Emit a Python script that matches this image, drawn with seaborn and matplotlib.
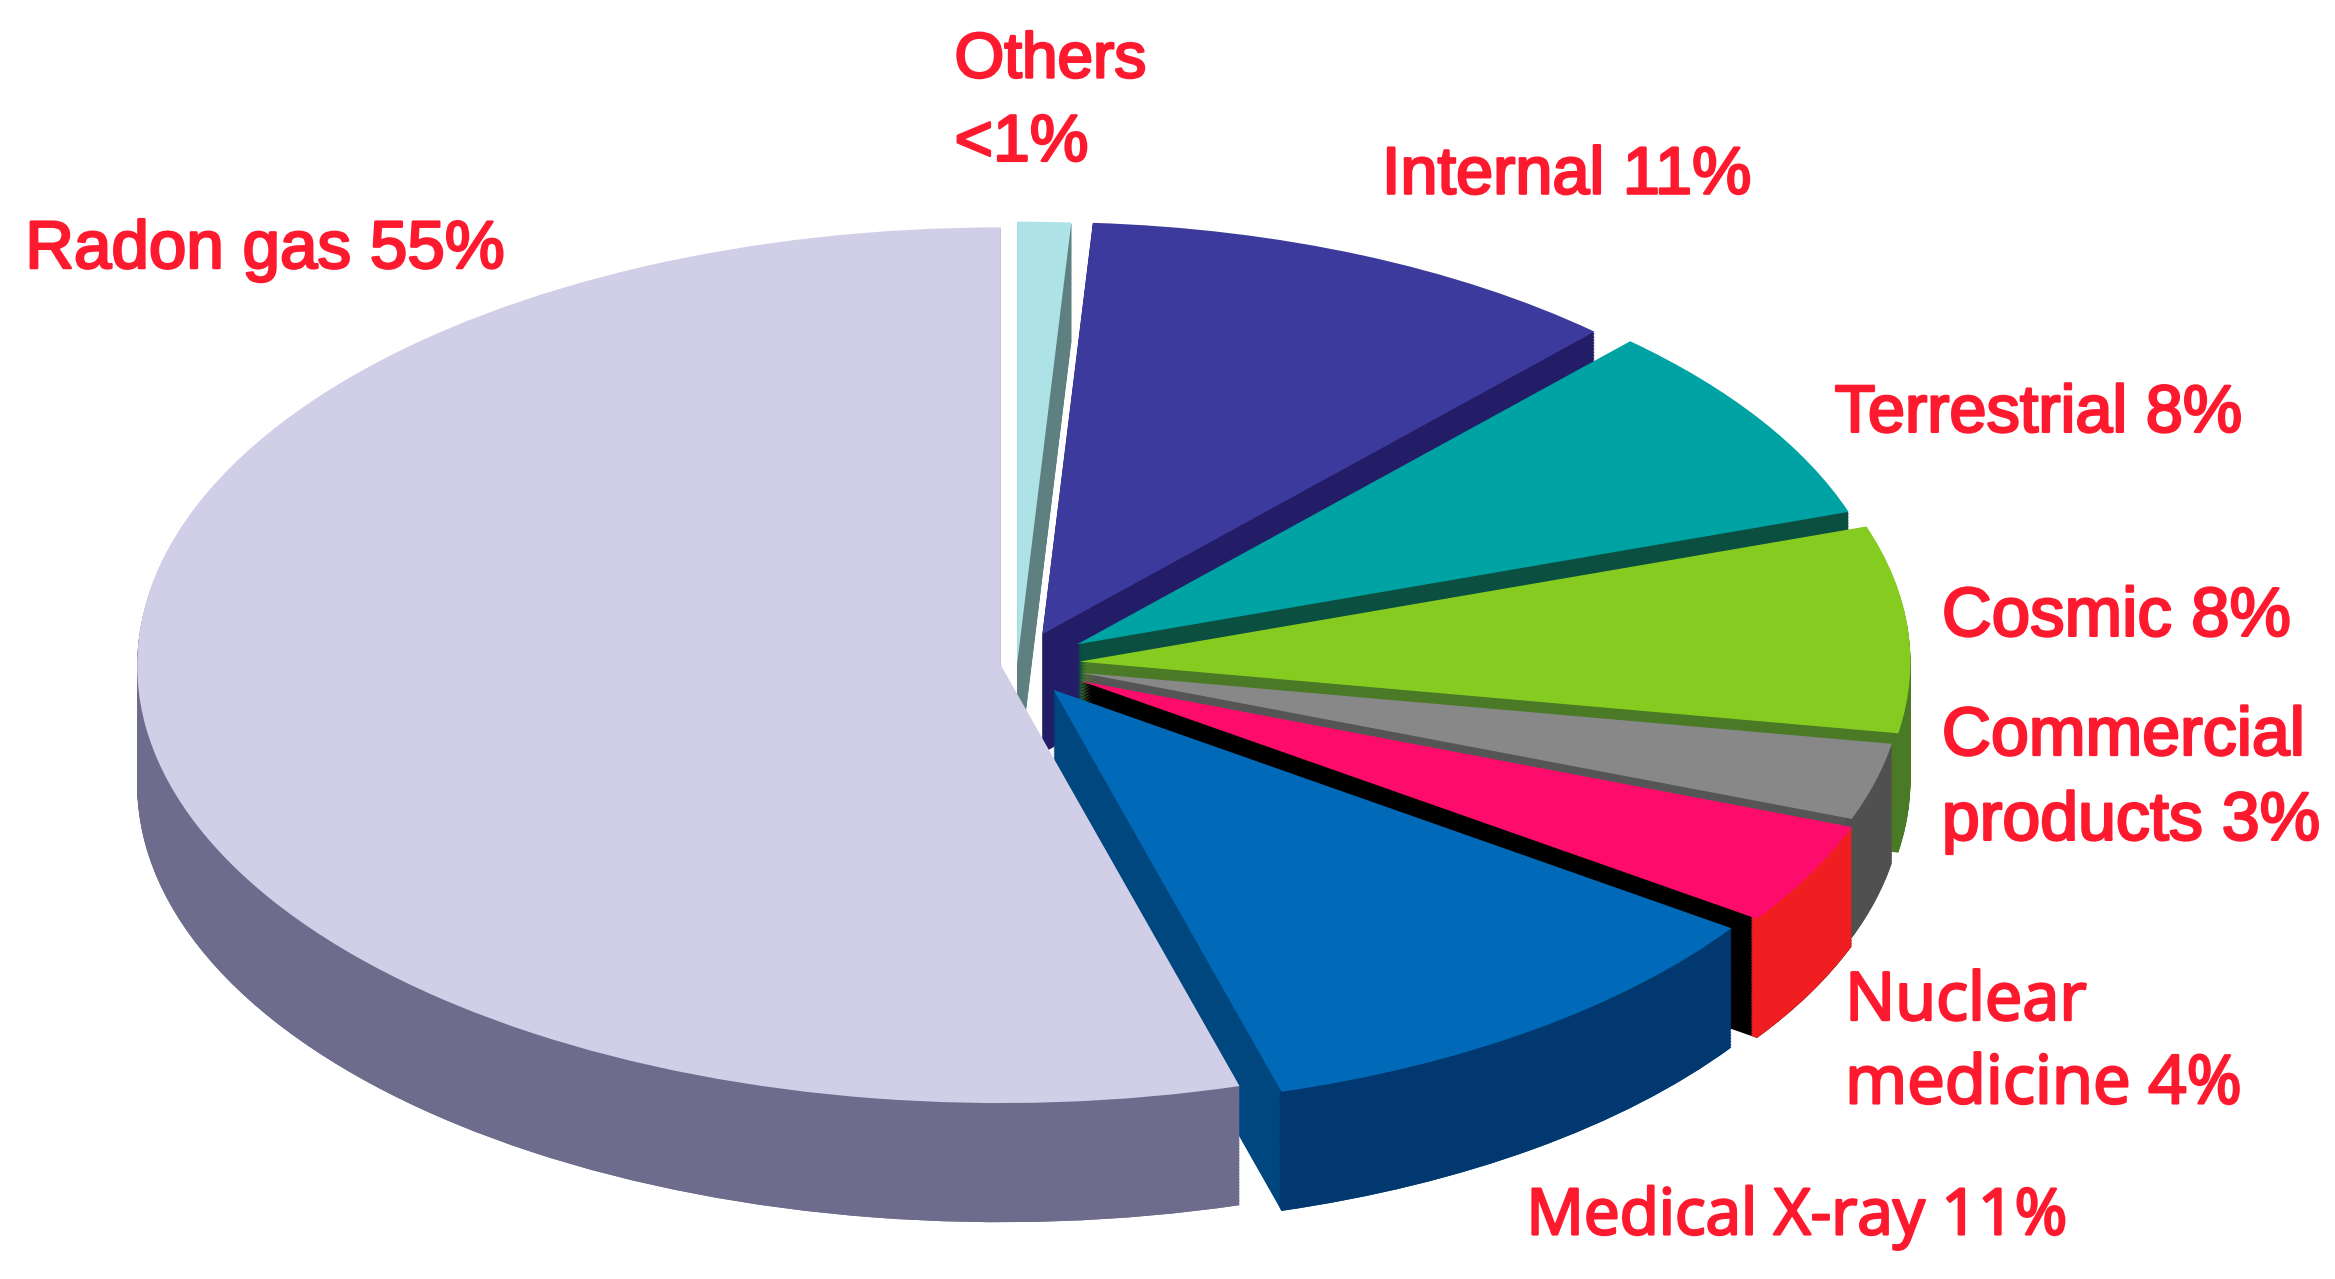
import numpy as np
import seaborn as sns
import matplotlib.pyplot as plt
import matplotlib.patheffects as pe

# slices, clockwise from the top
sources = ["Others", "Internal", "Terrestrial", "Cosmic", "Commercial products",
           "Nuclear medicine", "Medical X-ray", "Radon gas"]
percent = [1, 11, 8, 8, 3, 4, 11, 55]

top_colors = ["#ade3e6", "#3c3a9c", "#00a3a3", "#86cc20", "#888888", "#fe0c6b", "#006ab8", "#d1cee8"]
cut_colors = ["#5f8080", "#231c66", "#0a4f40", "#4a7a25", "#555555", "#000000", "#00467f", "#6e6c8c"]
rim_colors = ["#5f8080", "#231c66", "#0a4f40", "#4a7a25", "#505050", "#f01e20", "#00386f", "#6e6c8c"]

explode = [0, 43, 48, 42, 44, 48, 42, 11]
radii = [586, 546, 547, 558, 553, 553, 554, 580]

# everything is measured on a 1568x859 copy of the picture
W, H = 1568, 859
SQUASH = 0.507
CX, CY = 683, 446
DEPTH = 80

sns.set_theme(style="white")
fig = plt.figure(figsize=(23.35, 12.79), dpi=100, facecolor="white")
ax = fig.add_axes([0, 0, 1, 1])


def draw_pie(colors, drop=0, width=None):
    props = {"linewidth": 0}
    if width:
        props["width"] = width
    center = (CX, (H - CY - drop) / SQUASH)
    wedges, _ = ax.pie(percent, colors=sns.color_palette(colors), explode=explode, startangle=90,
                       counterclock=False, center=center, radius=550, wedgeprops=props)
    for w, r in zip(wedges, radii):
        w.set_radius(r)


# side wall, stacked from the bottom up: cut faces first, then the curved rim
drops = np.arange(DEPTH, 0, -1.0)
for drop in drops:
    draw_pie(cut_colors, drop)
for drop in drops:
    draw_pie(rim_colors, drop, width=5)

draw_pie(top_colors)

ax.set_aspect("auto")
ax.set_xlim(0, W)
ax.set_ylim(0, H / SQUASH)
ax.axis("off")

RED = "#fe1a2e"
labels = [
    ("Others", 641, 52, 46, "Liberation Sans"),
    ("<1%", 641, 108, 47.5, "Liberation Sans"),
    ("Internal 11%", 928, 130, 48, "Liberation Sans"),
    ("Radon gas 55%", 17, 180, 48.5, "Liberation Sans"),
    ("Terrestrial 8%", 1232, 290, 48, "Liberation Sans"),
    ("Cosmic 8%", 1304, 427, 49.7, "Liberation Sans"),
    ("Commercial", 1304, 507, 49, "Liberation Sans"),
    ("products 3%", 1304, 564, 49, "Liberation Sans"),
    ("Nuclear", 1239, 685, 48, "Open Sans"),
    ("medicine 4%", 1239, 741, 48.3, "Open Sans"),
    ("Medical X-ray 11%", 1025, 829, 46, "Open Sans"),
]
for text, x, y, size, font in labels:
    fig.text(x / W, 1 - y / H, text, color=RED, fontsize=size, family=font, va="baseline",
             path_effects=[pe.withStroke(linewidth=1.8, foreground=RED)])

fig.savefig("out.png", dpi=100, facecolor="white")
